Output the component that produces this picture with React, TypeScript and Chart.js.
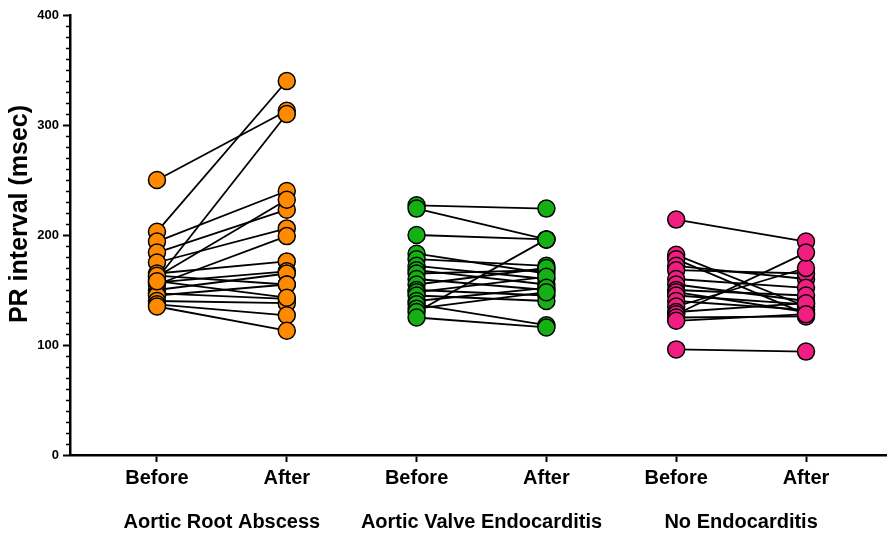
import React, { useEffect, useRef } from "react";
import { Chart, registerables } from "chart.js";

Chart.register(...registerables);

const tickLabels = ["Before", "After", "Before", "After", "Before", "After"];
const groupLabels = ["Aortic Root Abscess", "Aortic Valve Endocarditis", "No Endocarditis"];
const groupColors = ["#FF8A00", "#14B014", "#F01E80"];
const yTitle = "PR interval (msec)";

const rootBefore = [250, 203, 194, 184, 175, 165, 162, 160, 157, 155, 150, 147, 145, 140, 137, 135, 163, 158];
const rootAfter = [313, 340, 240, 223, 206, 176, 232, 310, 167, 199, 165, 142, 155, 138, 127, 113, 155, 143];

const valveBefore = [227, 224, 200, 183, 178, 172, 168, 165, 160, 155, 150, 148, 145, 140, 137, 133, 130, 125];
const valveAfter = [224, 196, 196, 165, 172, 160, 155, 168, 150, 170, 145, 162, 140, 152, 118, 148, 196, 116];

const noneBefore = [214, 182, 178, 172, 168, 160, 155, 150, 148, 145, 140, 135, 130, 128, 125, 122, 96];
const noneAfter = [194, 135, 128, 160, 165, 152, 140, 145, 130, 137, 132, 170, 138, 184, 126, 128, 94];

const groups = [
  { before: rootBefore, after: rootAfter },
  { before: valveBefore, after: valveAfter },
  { before: noneBefore, after: noneAfter },
];

const FONT = "'Liberation Sans', Arial, sans-serif";
const X_MIN = -0.67;
const X_MAX = 5.624;

const extras = {
  id: "extras",
  afterDraw(chart: any) {
    const y = chart.scales.y;
    const ctx = chart.ctx;
    ctx.save();
    ctx.strokeStyle = "#000";
    ctx.lineWidth = 1.5;
    for (let v = 10; v < 400; v += 10) {
      if (v % 100 === 0) continue;
      const py = Math.round(y.getPixelForValue(v)) + 0.5;
      ctx.beginPath();
      ctx.moveTo(y.right - 4, py);
      ctx.lineTo(y.right, py);
      ctx.stroke();
    }
    ctx.translate(20, 214);
    ctx.rotate(-Math.PI / 2);
    ctx.fillStyle = "#000";
    ctx.font = `bold 25px ${FONT}`;
    ctx.textAlign = "center";
    ctx.textBaseline = "middle";
    ctx.fillText(yTitle, 0, 0);
    ctx.restore();
  },
};

export default function App() {
  const ref = useRef<HTMLCanvasElement>(null);
  useEffect(() => {
    document.body.style.margin = "0";
    const datasets: any[] = [];
    groups.forEach((g, gi) => {
      const x0 = gi * 2;
      const pts: any[] = [];
      g.before.forEach((b, i) => {
        datasets.push({
          type: "line",
          data: [
            { x: x0, y: b },
            { x: x0 + 1, y: g.after[i] },
          ],
          borderColor: "#000",
          borderWidth: 1.8,
          pointRadius: 0,
          fill: false,
          order: 2,
        });
        pts.push({ x: x0, y: b });
        pts.push({ x: x0 + 1, y: g.after[i] });
      });
      datasets.push({
        type: "scatter",
        data: pts,
        backgroundColor: groupColors[gi],
        borderColor: "#000",
        borderWidth: 1.5,
        pointRadius: 8.5,
        order: 1,
      });
    });

    const chart = new Chart(ref.current!, {
      type: "scatter",
      data: { datasets },
      plugins: [extras],
      options: {
        animation: false,
        responsive: false,
        layout: { autoPadding: false, padding: { top: 15, right: 0, bottom: 0, left: 0 } },
        plugins: { legend: { display: false }, tooltip: { enabled: false } },
        scales: {
          x: {
            type: "linear",
            min: X_MIN,
            max: X_MAX,
            weight: 0,
            afterBuildTicks: (s: any) => {
              s.ticks = [0, 1, 2, 3, 4, 5].map((v) => ({ value: v }));
            },
            afterFit: (s: any) => {
              s.height = 40;
              s.paddingLeft = 0;
              s.paddingRight = 0;
            },
            grid: { display: true, drawOnChartArea: false, tickLength: 7, tickWidth: 2, tickColor: "#000" },
            border: { display: true, color: "#000", width: 2.5 },
            ticks: {
              autoSkip: false,
              maxRotation: 0,
              padding: 4,
              color: "#000",
              font: { family: FONT, size: 20, weight: "bold" },
              callback: (v: any) => tickLabels[Math.round(Number(v))] ?? "",
            },
          },
          x2: {
            type: "linear",
            position: "bottom",
            min: X_MIN,
            max: X_MAX,
            weight: 1,
            afterBuildTicks: (s: any) => {
              s.ticks = [0.5, 2.5, 4.5].map((v) => ({ value: v }));
            },
            afterFit: (s: any) => {
              s.height = 38;
              s.paddingLeft = 0;
              s.paddingRight = 0;
            },
            grid: { display: false, drawTicks: false },
            border: { display: false },
            ticks: {
              autoSkip: false,
              maxRotation: 0,
              padding: 15,
              color: "#000",
              font: { family: FONT, size: 20, weight: "bold" },
              callback: (v: any) => groupLabels[Math.round((Number(v) - 0.5) / 2)] ?? "",
            },
          },
          y: {
            type: "linear",
            min: 0,
            max: 400,
            afterBuildTicks: (s: any) => {
              s.ticks = [0, 100, 200, 300, 400].map((v) => ({ value: v }));
            },
            afterFit: (s: any) => {
              s.width = 70;
            },
            grid: { display: true, drawOnChartArea: false, tickLength: 7, tickWidth: 2, tickColor: "#000" },
            border: { display: true, color: "#000", width: 2.5 },
            ticks: {
              padding: 4,
              color: "#000",
              font: { family: FONT, size: 13, weight: "bold" },
            },
          },
        },
      },
    });
    return () => chart.destroy();
  }, []);
  return (
    <div style={{ position: "fixed", left: 0, top: 0, width: 887, height: 533, background: "#fff" }}>
      <canvas ref={ref} width={887} height={533} style={{ width: 887, height: 533 }} />
    </div>
  );
}
